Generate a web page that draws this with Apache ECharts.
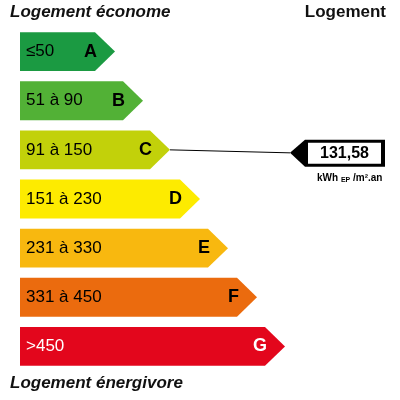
<!DOCTYPE html>
<html><head><meta charset="utf-8">
<script src="https://cdn.jsdelivr.net/npm/echarts@6/dist/echarts.min.js"></script>
<style>html,body{margin:0;padding:0;background:#fff}#c{width:400px;height:400px}</style>
</head><body><div id="c"></div>
<script>
const ranges = ['≤50','51 à 90','91 à 150','151 à 230','231 à 330','331 à 450','>450'];
const letters = ['A','B','C','D','E','F','G'];
const lengths = [95,123,150,180,208,237,265];
const colors = ['#1b9a42','#52b136','#c2d10a','#fdeb00','#f8b80f','#eb6b0e','#e3061c'];
const textColors = ['#000','#000','#000','#000','#000','#000','#fff'];
const value = 131.58;
const valueLabel = '131,58';
const valueClass = 2;
const F = 'Liberation Sans, Arial, sans-serif';
const chart = echarts.init(document.getElementById('c'));
chart.setOption({
  animation:false,
  grid:{left:20,right:0,top:27,bottom:29},
  xAxis:{type:'value',min:0,max:380,show:false},
  yAxis:{type:'category',data:letters,inverse:true,show:false},
  graphic:[
    {type:'text',left:10,top:4,style:{text:'Logement économe',font:'italic bold 17px '+F,fill:'#111'}},
    {type:'text',right:14,top:4,style:{text:'Logement',font:'bold 17px '+F,fill:'#111'}},
    {type:'text',left:10,top:375,style:{text:'Logement énergivore',font:'italic bold 17px '+F,fill:'#111'}}
  ],
  series:[{
    type:'custom',
    data:lengths.map((l,i)=>[l,i]),
    renderItem:(p,api)=>{
      const i=api.value(1);
      const s=api.coord([0,i]), e=api.coord([api.value(0),i]);
      const h=api.size([0,1])[1]*0.79/2, t=20, y=s[1];
      return {type:'group',children:[
        {type:'polygon',shape:{points:[[s[0],y-h],[e[0]-t,y-h],[e[0],y],[e[0]-t,y+h],[s[0],y+h]]},style:{fill:colors[i]}},
        {type:'text',x:s[0]+6,y:y,style:{text:ranges[i],font:'17px '+F,fill:textColors[i],verticalAlign:'middle'}},
        {type:'text',x:e[0]-18,y:y,style:{text:letters[i],font:'bold 18px '+F,fill:textColors[i],align:'right',verticalAlign:'middle'}}
      ]};
    }
  },{
    type:'custom',
    data:[[value,valueClass]],
    renderItem:(p,api)=>{
      const i=api.value(1);
      const e=api.coord([lengths[i],i]);
      const y=e[1]+3, x0=290, x1=385;
      return {type:'group',children:[
        {type:'line',shape:{x1:e[0],y1:e[1],x2:x0,y2:y},style:{stroke:'#000',lineWidth:1}},
        {type:'polygon',shape:{points:[[x0,y],[x0+15,y-13],[x1,y-13],[x1,y+14],[x0+15,y+14]]},style:{fill:'#000'}},
        {type:'rect',shape:{x:x0+18,y:y-10,width:x1-x0-22,height:21},style:{fill:'#fff'}},
        {type:'text',x:(x0+18+x1-4)/2,y:y+1,style:{text:valueLabel,font:'bold 16px '+F,fill:'#000',align:'center',verticalAlign:'middle'}},
        {type:'text',x:x0+27,y:y+25,style:{text:'kWh {s|EP} /m².an',font:'bold 10px '+F,fill:'#000',verticalAlign:'middle',rich:{s:{font:'bold 7px '+F,fill:'#000',verticalAlign:'bottom',padding:[4,0,0,0]}}}}
      ]};
    }
  }]
});
</script></body></html>
